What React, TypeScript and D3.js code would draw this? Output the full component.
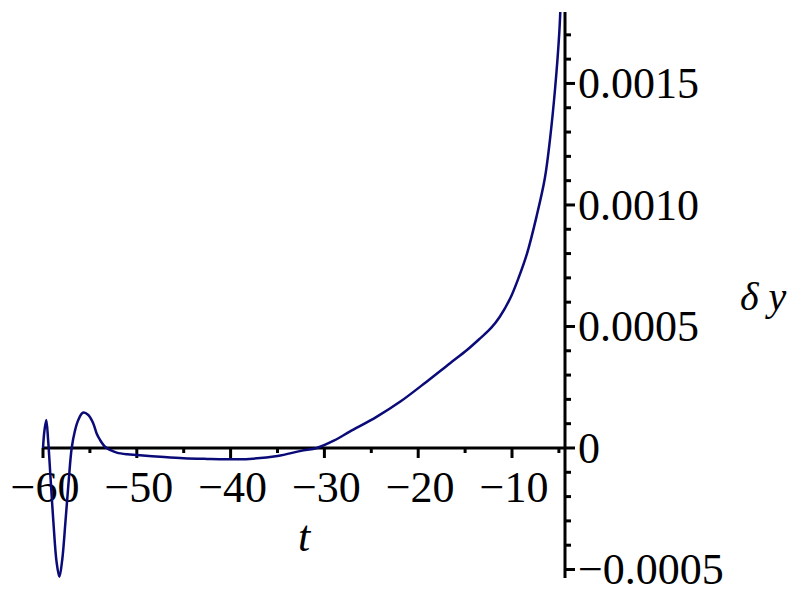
import React from "react";
import * as d3 from "d3";

const tValues = [
  -60, -59.85, -59.65, -59.45, -59.2, -58.9, -58.55, -58.25, -57.95, -57.6, -57.25, -56.94,
  -56.6, -56.24, -55.75, -55.17, -54.64, -54.28, -53.92, -53.39, -52.86, -52.14, -51,
  -50, -47.5, -45, -42.5, -40.5, -38, -35, -32.5, -30.8, -29, -27.3, -24.4, -21.9, -19.1,
  -16.6, -14.8, -13.4, -12.2, -11.3, -10.2, -9.3, -8.4, -7.4, -6.5, -5.95, -5.42, -4.96, -4.8,
];
const dyValues = [
  0.0, 0.00007, 0.000115, 0.00003, -0.00012, -0.0003, -0.00047, -0.00053, -0.00046, -0.0003,
  -0.00013, 0.0, 0.00007, 0.000115, 0.000145, 0.000136, 0.000101, 0.00006, 0.000033,
  0.000005, -0.000008, -0.000019, -0.000026, -0.000029, -0.000036, -0.000042, -0.000045,
  -0.0000465, -0.000045, -0.000033, -0.000012, 0.0, 0.00003, 0.000067, 0.000129, 0.000191,
  0.000273, 0.000349, 0.000403, 0.000451, 0.000495, 0.00054, 0.000615, 0.0007, 0.0008,
  0.00095, 0.00111, 0.00127, 0.001473, 0.001708, 0.00185,
];
const xMajorTicks = [-60, -50, -40, -30, -20, -10];
const xMinorTicks = [-55, -45, -35, -25, -15, -5];
const xTickLabels = ["\u221260", "\u221250", "\u221240", "\u221230", "\u221220", "\u221210"];
const yMajorTicks = [-0.0005, 0, 0.0005, 0.001, 0.0015];
const yTickLabels = ["\u22120.0005", "0", "0.0005", "0.0010", "0.0015"];
const yMinorTicks = [
  -0.0004, -0.0003, -0.0002, -0.0001, 0.0001, 0.0002, 0.0003, 0.0004, 0.0006, 0.0007, 0.0008,
  0.0009, 0.0011, 0.0012, 0.0013, 0.0014, 0.0016, 0.0017,
];
const xDomain = [-60, -4.35];
const yDomain = [-0.000535, 0.001794];

export default function App() {
  const x = d3.scaleLinear().domain(xDomain).range([43, 565]);
  const y = d3.scaleLinear().domain(yDomain).range([578, 12]);
  const pts = tValues.map((t, i) => [t, dyValues[i]] as [number, number]);
  const line = d3
    .line<[number, number]>()
    .x((d) => x(d[0]))
    .y((d) => y(d[1]))
    .curve(d3.curveCatmullRom.alpha(0.5));
  const axisX = x(xDomain[1]);
  const axisY = y(0);
  const font = "'Liberation Serif', 'DejaVu Serif', serif";
  return (
    <svg
      width={800}
      height={600}
      style={{ position: "absolute", left: 0, top: 0, background: "#fff" }}
    >
      <defs>
        <clipPath id="plotclip">
          <rect x={x(xDomain[0]) - 5} y={y(yDomain[1])} width={600} height={580} />
        </clipPath>
      </defs>
      {/* x axis */}
      <line x1={x(xDomain[0])} x2={axisX} y1={axisY} y2={axisY} stroke="#000" strokeWidth={3} />
      {xMajorTicks.map((t) => (
        <line key={"xM" + t} x1={x(t)} x2={x(t)} y1={axisY} y2={axisY + 10} stroke="#000" strokeWidth={3} />
      ))}
      {xMinorTicks.map((t) => (
        <line key={"xm" + t} x1={x(t)} x2={x(t)} y1={axisY} y2={axisY + 5} stroke="#000" strokeWidth={3} />
      ))}
      {xMajorTicks.map((t, i) => (
        <text key={"xl" + t} x={x(t) + 2} y={502} fontFamily={font} fontSize={44} textAnchor="middle">
          {xTickLabels[i]}
        </text>
      ))}
      <text x={304} y={551} fontFamily={font} fontSize={44} fontStyle="italic" textAnchor="middle">
        t
      </text>
      {/* y axis */}
      <line x1={axisX} x2={axisX} y1={y(yDomain[1])} y2={y(yDomain[0])} stroke="#000" strokeWidth={3} />
      {yMajorTicks.map((v) => (
        <line key={"yM" + v} x1={axisX} x2={axisX + 10} y1={y(v)} y2={y(v)} stroke="#000" strokeWidth={3} />
      ))}
      {yMinorTicks.map((v) => (
        <line key={"ym" + v} x1={axisX} x2={axisX + 6} y1={y(v)} y2={y(v)} stroke="#000" strokeWidth={3} />
      ))}
      {yMajorTicks.map((v, i) => (
        <text key={"yl" + v} x={axisX + 13} y={y(v) + 15} fontFamily={font} fontSize={44} textAnchor="start">
          {yTickLabels[i]}
        </text>
      ))}
      <text x={740} y={310} fontFamily={font} fontSize={40} fontStyle="italic" textAnchor="start">
        δ y
      </text>
      {/* curve */}
      <path d={line(pts) || ""} fill="none" stroke="#0a0a78" strokeWidth={2.5} clipPath="url(#plotclip)" />
    </svg>
  );
}
